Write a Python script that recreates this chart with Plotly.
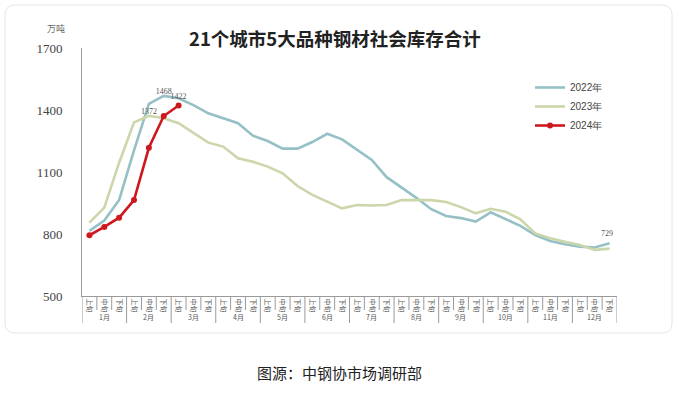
import plotly.graph_objects as go

months = [f"{m}月" for m in range(1, 13)]
xun = ["上旬", "中旬", "下旬"]
categories = [f"{m}{x}" for m in months for x in xun]
tick_text = [x for m in months for x in xun]

y2022 = [815, 865, 965, 1205, 1430, 1468, 1457, 1424, 1384, 1360, 1336, 1276,
         1250, 1213, 1213, 1245, 1285, 1258, 1206, 1158, 1075, 1025, 975, 920,
         887, 877, 860, 905, 871, 839, 795, 766, 750, 739, 735, 755]
y2023 = [855, 928, 1145, 1340, 1372, 1360, 1336, 1288, 1242, 1223, 1166, 1150,
         1126, 1094, 1032, 989, 956, 924, 940, 938, 940, 964, 964, 964,
         955, 930, 900, 922, 908, 871, 803, 779, 763, 747, 723, 729]
y2024 = [794, 834, 879, 964, 1217, 1371, 1422]

label_idx_2022 = [5]
label_idx_2023 = [4]
label_idx_2024 = [6]
end_label_idx_2023 = 35

y_ticks = [500, 800, 1100, 1400, 1700]

def labels(vals, idx):
    return [str(v) if i in idx else "" for i, v in enumerate(vals)]

C22 = "rgb(150,192,198)"
C23 = "rgb(203,214,170)"
C24 = "rgb(205,25,30)"
LBL = dict(size=8, color="#555", family="Liberation Serif")

fig = go.Figure()
fig.add_trace(go.Scatter(x=categories, y=y2022, name="2022年", mode="lines+text",
                         line=dict(color=C22, width=2.6),
                         text=labels(y2022, label_idx_2022), textposition="top center",
                         textfont=LBL))
fig.add_trace(go.Scatter(x=categories, y=y2023, name="2023年", mode="lines+text",
                         line=dict(color=C23, width=2.6),
                         text=labels(y2023, label_idx_2023), textposition="top center",
                         textfont=LBL))
fig.add_trace(go.Scatter(x=categories[:len(y2024)], y=y2024, name="2024年", mode="lines+markers+text",
                         line=dict(color=C24, width=2.6), marker=dict(color=C24, size=6),
                         text=labels(y2024, label_idx_2024), textposition="top center",
                         textfont=LBL))

PL, PR, PT, PB = 82, 617, 48, 296
W, H = 679, 397
pw, ph = PR - PL, PB - PT

def px(x):
    return (x - PL) / pw

def py(y):
    return (PB - y) / ph

shapes = []
x0, x1, y0, y1, r = 5, 672, 5, 333, 10
path = (f"M {px(x0 + r)} {py(y0)} L {px(x1 - r)} {py(y0)} Q {px(x1)} {py(y0)} {px(x1)} {py(y0 + r)} "
        f"L {px(x1)} {py(y1 - r)} Q {px(x1)} {py(y1)} {px(x1 - r)} {py(y1)} "
        f"L {px(x0 + r)} {py(y1)} Q {px(x0)} {py(y1)} {px(x0)} {py(y1 - r)} "
        f"L {px(x0)} {py(y0 + r)} Q {px(x0)} {py(y0)} {px(x0 + r)} {py(y0)} Z")
shapes.append(dict(type="path", xref="paper", yref="paper", path=path,
                   line=dict(color="#e6e6e6", width=1), fillcolor="rgba(0,0,0,0)", layer="below"))
n = len(categories)
for i in range(n + 1):
    long = (i % 3 == 0)
    shapes.append(dict(type="line", xref="x", yref="paper", x0=i - 0.5, x1=i - 0.5,
                       y0=0, y1=py(323) if long else py(310),
                       line=dict(color="#9a9a9a", width=1)))

annotations = [
    dict(text="<b>21个城市5大品种钢材社会库存合计</b>", xref="paper", yref="paper",
         x=px(335), y=py(38), showarrow=False,
         font=dict(size=18.5, color="#222", family="Noto Sans CJK SC"), xanchor="center", yanchor="middle"),
    dict(text="万吨", xref="paper", yref="paper", x=px(56), y=py(29), showarrow=False,
         font=dict(size=9, color="#666", family="Noto Sans CJK SC"), xanchor="center", yanchor="middle"),
    dict(text="图源：中钢协市场调研部", xref="paper", yref="paper", x=px(339), y=py(372),
         showarrow=False, font=dict(size=15, color="#222", family="Noto Sans CJK SC"),
         xanchor="center", yanchor="middle"),
    dict(text=str(y2023[end_label_idx_2023]), xref="x", yref="y",
         x=categories[end_label_idx_2023], y=y2023[end_label_idx_2023],
         yshift=15, xshift=-3, showarrow=False, font=LBL),
]
for k, m in enumerate(months):
    annotations.append(dict(text=m, xref="x", yref="paper", x=categories[3 * k + 1], y=py(317),
                            showarrow=False, font=dict(size=7, color="#555", family="Noto Sans CJK SC"),
                            xanchor="center", yanchor="middle"))

fig.update_layout(
    width=W, height=H,
    margin=dict(l=PL, r=W - PR, t=PT, b=H - PB),
    paper_bgcolor="white", plot_bgcolor="white",
    showlegend=True,
    legend=dict(x=px(530), y=py(73), xanchor="left", yanchor="top",
                font=dict(size=10, color="#444", family="Liberation Sans"),
                bgcolor="rgba(0,0,0,0)", tracegroupgap=0, itemwidth=30),
    xaxis=dict(type="category", categoryorder="array", categoryarray=categories,
               tickvals=categories, ticktext=tick_text, tickangle=90,
               tickfont=dict(size=7, color="#555", family="Noto Sans CJK SC"),
               showgrid=False, showline=True, linecolor="#9a9a9a", linewidth=1,
               ticks="", range=[-0.5, n - 0.5], zeroline=False),
    yaxis=dict(range=[500, 1700], tickvals=y_ticks, showgrid=False, showline=True,
               linecolor="#9a9a9a", linewidth=1, ticks="", zeroline=False,
               tickfont=dict(size=13, color="#444", family="Liberation Serif"),
               ticklabelstandoff=16),
    shapes=shapes, annotations=annotations,
)

fig.write_html("out.html", config={"displayModeBar": False},
               post_script="document.body.style.margin='0';document.body.style.overflow='hidden';")
